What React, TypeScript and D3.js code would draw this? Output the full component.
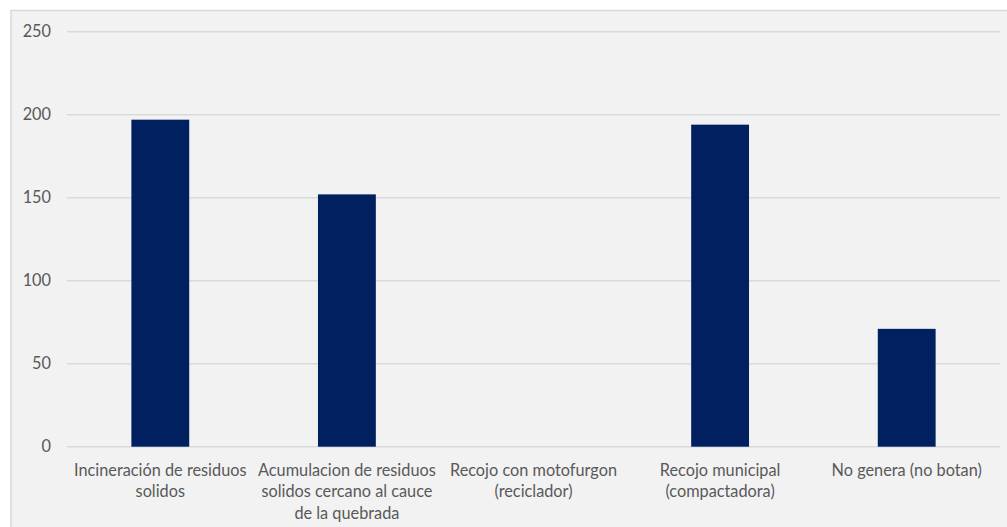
import React, { useEffect, useRef } from "react";
import * as d3 from "d3";

const categories: string[] = [
  "Incineración de residuos solidos",
  "Acumulacion de residuos solidos cercano al cauce de la quebrada",
  "Recojo con motofurgon (reciclador)",
  "Recojo municipal (compactadora)",
  "No genera (no botan)",
];
const values: number[] = [197, 152, 0, 194, 71];
const yTicks: number[] = [0, 50, 100, 150, 200, 250];

const W = 1007;
const H = 527;
const FONT = "Lato, 'Open Sans', sans-serif";
const FONT_SIZE = 16.3;

export default function App() {
  const ref = useRef<SVGSVGElement>(null);

  useEffect(() => {
    const svg = d3.select(ref.current);
    svg.selectAll("*").remove();

    const left = 67;
    const right = 1000;
    const top = 31.7;
    const bottom = 446.7;

    // chart area frame
    svg
      .append("rect")
      .attr("x", 11)
      .attr("y", 10.5)
      .attr("width", W + 20)
      .attr("height", H + 20)
      .attr("fill", "#f2f2f2")
      .attr("stroke", "#d9d9d9")
      .attr("stroke-width", 1.5);

    const x = d3
      .scaleBand<string>()
      .domain(categories)
      .range([left, right])
      .paddingInner(0.69)
      .paddingOuter(0.345);
    const y = d3.scaleLinear().domain([0, 250]).range([bottom, top]);

    // gridlines
    svg
      .append("g")
      .selectAll("line")
      .data(yTicks)
      .join("line")
      .attr("x1", left)
      .attr("x2", right)
      .attr("y1", (d) => y(d))
      .attr("y2", (d) => y(d))
      .attr("stroke", "#d9d9d9")
      .attr("stroke-width", 1.5);

    // y tick labels
    svg
      .append("g")
      .selectAll("text")
      .data(yTicks)
      .join("text")
      .attr("x", 51)
      .attr("y", (d) => y(d))
      .attr("dy", "0.35em")
      .attr("text-anchor", "end")
      .attr("font-family", FONT)
      .attr("font-size", FONT_SIZE)
      .attr("fill", "#595959")
      .text((d) => String(d));

    // bars
    svg
      .append("g")
      .selectAll("rect")
      .data(categories)
      .join("rect")
      .attr("x", (d) => x(d)!)
      .attr("width", x.bandwidth())
      .attr("y", (d, i) => y(values[i]))
      .attr("height", (d, i) => bottom - y(values[i]))
      .attr("fill", "#002060");

    // category labels, wrapped to the category width
    const step = x.step();
    const labels = svg
      .append("g")
      .selectAll("text")
      .data(categories)
      .join("text")
      .attr("x", (d) => x(d)! + x.bandwidth() / 2)
      .attr("y", 475.5)
      .attr("text-anchor", "middle")
      .attr("font-family", FONT)
      .attr("font-size", FONT_SIZE)
      .attr("fill", "#595959");

    labels.each(function (d) {
      const text = d3.select(this);
      const words = d.split(" ");
      const cx = +text.attr("x");
      let line: string[] = [];
      let tspan = text.append("tspan").attr("x", cx).attr("dy", 0);
      for (const w of words) {
        line.push(w);
        tspan.text(line.join(" "));
        if ((tspan.node() as SVGTSpanElement).getComputedTextLength() > step - 2 && line.length > 1) {
          line.pop();
          tspan.text(line.join(" "));
          line = [w];
          tspan = text.append("tspan").attr("x", cx).attr("dy", 21.5).text(w);
        }
      }
    });
  }, []);

  return (
    <svg
      ref={ref}
      width={W}
      height={H}
      style={{ position: "fixed", left: 0, top: 0, background: "#ffffff" }}
    />
  );
}
